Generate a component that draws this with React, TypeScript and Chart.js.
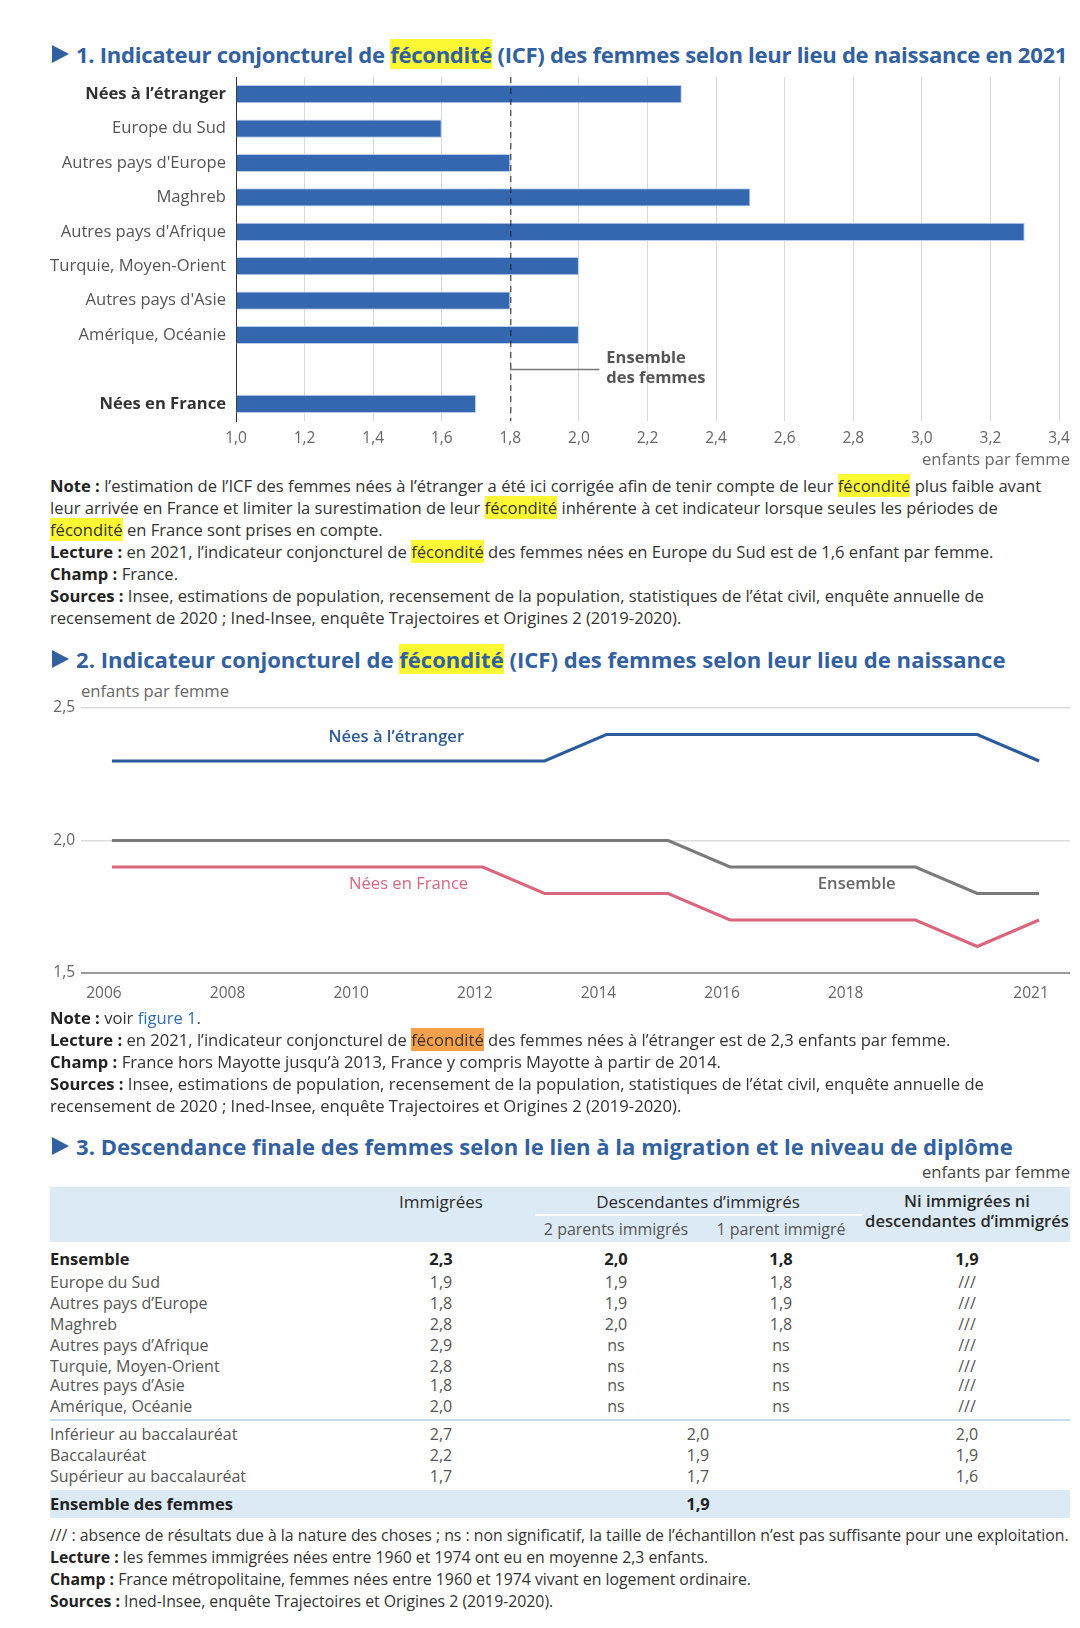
import React, { useEffect, useRef } from 'react';
import { Chart, registerables } from 'chart.js';
Chart.register(...registerables);

// ---------- Figure 1 data ----------
const birthplaceLabels = ['Nées à l’étranger', 'Europe du Sud', "Autres pays d'Europe", 'Maghreb', "Autres pays d'Afrique", 'Turquie, Moyen-Orient', "Autres pays d'Asie", 'Amérique, Océanie', '', 'Nées en France'];
const icf2021 = [2.3, 1.6, 1.8, 2.5, 3.3, 2.0, 1.8, 2.0, null, 1.7];
const ensembleFemmes2021 = 1.8;
const boldBirthplaceIdx = [0, 9];

// ---------- Figure 2 data ----------
const years = [2006, 2007, 2008, 2009, 2010, 2011, 2012, 2013, 2014, 2015, 2016, 2017, 2018, 2019, 2020, 2021];
const neesEtranger = [2.3, 2.3, 2.3, 2.3, 2.3, 2.3, 2.3, 2.3, 2.4, 2.4, 2.4, 2.4, 2.4, 2.4, 2.4, 2.3];
const ensembleSerie = [2.0, 2.0, 2.0, 2.0, 2.0, 2.0, 2.0, 2.0, 2.0, 2.0, 1.9, 1.9, 1.9, 1.9, 1.8, 1.8];
const neesFrance = [1.9, 1.9, 1.9, 1.9, 1.9, 1.9, 1.9, 1.8, 1.8, 1.8, 1.7, 1.7, 1.7, 1.7, 1.6, 1.7];
const yearTickLabels = [2006, 2008, 2010, 2012, 2014, 2016, 2018, 2021];

// ---------- Figure 3 data ----------
const ensembleRow = [2.3, 2.0, 1.8, 1.9];
const originLabels = ['Europe du Sud', 'Autres pays d’Europe', 'Maghreb', 'Autres pays d’Afrique', 'Turquie, Moyen-Orient', 'Autres pays d’Asie', 'Amérique, Océanie'];
const originImmigrees = [1.9, 1.8, 2.8, 2.9, 2.8, 1.8, 2.0];
const origin2Parents = [1.9, 1.9, 2.0, null, null, null, null];
const origin1Parent = [1.8, 1.9, 1.8, null, null, null, null];
const diplomaLabels = ['Inférieur au baccalauréat', 'Baccalauréat', 'Supérieur au baccalauréat'];
const diplomaImmigrees = [2.7, 2.2, 1.7];
const diplomaDescendantes = [2.0, 1.9, 1.7];
const diplomaNi = [2.0, 1.9, 1.6];
const ensembleDesFemmes = 1.9;

const FONT = '"Open Sans", "DejaVu Sans", sans-serif';
const TITLE_BLUE = '#33619f';
const NOTE_SIZE = 16.6;
const fmt = (v: number | null) => (v === null ? 'ns' : v.toFixed(1).replace('.', ','));

function BarChart() {
  const ref = useRef<HTMLCanvasElement>(null);
  useEffect(() => {
    if (!ref.current) return;
    const refLine = {
      id: 'refLine',
      afterDatasetsDraw(chart: any) {
        const { ctx, chartArea, scales } = chart;
        const x = scales.x.getPixelForValue(ensembleFemmes2021);
        ctx.save();
        ctx.setLineDash([6, 5]);
        ctx.strokeStyle = '#222';
        ctx.lineWidth = 1;
        ctx.beginPath();
        ctx.moveTo(x + 0.5, chartArea.top);
        ctx.lineTo(x + 0.5, chartArea.bottom);
        ctx.stroke();
        const yMid = scales.y.getPixelForValue(8);
        ctx.setLineDash([]);
        ctx.strokeStyle = '#777';
        ctx.lineWidth = 1.5;
        ctx.beginPath();
        ctx.moveTo(x, yMid);
        ctx.lineTo(scales.x.getPixelForValue(2.06), yMid);
        ctx.stroke();
        ctx.fillStyle = '#555';
        ctx.font = `700 16.5px ${FONT}`;
        ctx.textBaseline = 'middle';
        const xt = scales.x.getPixelForValue(2.08);
        ctx.fillText('Ensemble', xt, yMid - 11);
        ctx.fillText('des femmes', xt, yMid + 9);
        ctx.restore();
      },
    };
    const chart = new Chart(ref.current, {
      type: 'bar',
      data: {
        labels: birthplaceLabels,
        datasets: [{
          data: icf2021 as any,
          base: 1,
          backgroundColor: '#3566b0',
          borderColor: '#b9cfea',
          borderWidth: 1,
          barPercentage: 0.53,
          categoryPercentage: 1,
        } as any],
      },
      options: {
        indexAxis: 'y',
        responsive: false,
        animation: false,
        layout: { padding: { top: 7, right: 21, bottom: 0, left: 0 }, autoPadding: false } as any,
        plugins: { legend: { display: false }, tooltip: { enabled: false } },
        scales: {
          x: {
            type: 'linear', min: 1, max: 3.4,
            ticks: { stepSize: 0.2, callback: (v: any) => Number(v).toFixed(1).replace('.', ','), color: '#666', font: { family: FONT, size: 15.5 }, padding: 8 },
            grid: { color: '#d9d9d9', drawTicks: false },
            border: { display: false },
            afterFit: (s: any) => { s.height = 49; s.paddingLeft = 0; s.paddingRight = 0; },
          },
          y: {
            ticks: {
              color: (c: any) => (boldBirthplaceIdx.includes(c.index) ? '#333' : '#555'),
              font: (c: any) => ({ family: FONT, size: NOTE_SIZE, weight: boldBirthplaceIdx.includes(c.index) ? '700' : '400' }),
              padding: 10,
              autoSkip: false,
            },
            grid: { display: false, drawTicks: false },
            border: { display: true, color: '#333', width: 1 },
            afterFit: (s: any) => { s.width = 236; s.paddingTop = 0; s.paddingBottom = 0; },
          },
        },
      } as any,
      plugins: [refLine],
    });
    return () => chart.destroy();
  }, []);
  return <canvas ref={ref} width={1080} height={400} style={{ position: 'absolute', left: 0, top: 70 }} />;
}

const lineLabels = [
  { text: 'Nées à l’étranger', x: 2010.6, y: 2.39, color: '#2b5b9a', weight: '600' },
  { text: 'Nées en France', x: 2010.8, y: 1.836, color: '#d9657e', weight: '400' },
  { text: 'Ensemble', x: 2018.05, y: 1.836, color: '#666', weight: '600' },
];

function LineChart() {
  const ref = useRef<HTMLCanvasElement>(null);
  useEffect(() => {
    if (!ref.current) return;
    const labelsPlugin = {
      id: 'lineLabels',
      afterDatasetsDraw(chart: any) {
        const { ctx, scales } = chart;
        ctx.save();
        ctx.textAlign = 'center';
        ctx.textBaseline = 'middle';
        lineLabels.forEach((l) => {
          ctx.fillStyle = l.color;
          ctx.font = `${l.weight} ${NOTE_SIZE}px ${FONT}`;
          ctx.fillText(l.text, scales.x.getPixelForValue(l.x), scales.y.getPixelForValue(l.y));
        });
        ctx.restore();
      },
    };
    const toPts = (arr: number[]) => arr.map((v, i) => ({ x: years[i], y: v }));
    const chart = new Chart(ref.current, {
      type: 'line',
      data: {
        datasets: [
          { data: toPts(neesFrance), borderColor: '#d9657e', borderWidth: 3, pointRadius: 0, tension: 0 },
          { data: toPts(ensembleSerie), borderColor: '#7a7a7a', borderWidth: 3, pointRadius: 0, tension: 0 },
          { data: toPts(neesEtranger), borderColor: '#2b5b9a', borderWidth: 3, pointRadius: 0, tension: 0 },
        ],
      },
      options: {
        responsive: false,
        animation: false,
        layout: { padding: { top: 13, right: 10, bottom: 0, left: 0 }, autoPadding: false } as any,
        plugins: { legend: { display: false }, tooltip: { enabled: false } },
        scales: {
          x: {
            type: 'linear', min: 2005.5, max: 2021.5,
            afterBuildTicks: (s: any) => { s.ticks = yearTickLabels.map((v) => ({ value: v })); },
            ticks: { callback: (v: any) => String(v), color: '#666', font: { family: FONT, size: 15.5 }, padding: 11, labelOffset: -8, autoSkip: false, maxRotation: 0 },
            grid: { display: false, drawTicks: false },
            border: { display: false },
            afterFit: (s: any) => { s.height = 42; s.paddingLeft = 0; s.paddingRight = 0; },
          },
          y: {
            type: 'linear', min: 1.5, max: 2.5,
            ticks: { stepSize: 0.5, callback: (v: any) => Number(v).toFixed(1).replace('.', ','), color: '#666', font: { family: FONT, size: 15.5 }, padding: 6 },
            grid: {
              drawTicks: false,
              color: (c: any) => (c.tick && c.tick.value === 1.5 ? '#9a9a9a' : '#dcdcdc'),
              lineWidth: (c: any) => (c.tick && c.tick.value === 1.5 ? 2 : 1.5),
            },
            border: { display: false },
            afterFit: (s: any) => { s.width = 81; s.paddingTop = 0; s.paddingBottom = 0; },
          },
        },
      } as any,
      plugins: [labelsPlugin],
    });
    return () => chart.destroy();
  }, []);
  return <canvas ref={ref} width={1080} height={320} style={{ position: 'absolute', left: 0, top: 695 }} />;
}

const Hl = ({ c, children }: any) => <span style={{ background: c }}>{children}</span>;
const B = ({ children }: any) => <b style={{ fontWeight: 700, color: '#222' }}>{children}</b>;
const YEL = '#fcf934';

function Title({ top, children, spacing = 0 }: any) {
  return (
    <div style={{ position: 'absolute', left: 52, top: top - 16, height: 32, display: 'flex', alignItems: 'center', whiteSpace: 'nowrap', color: TITLE_BLUE, font: `700 22.1px ${FONT}`, letterSpacing: spacing }}>
      <span style={{ display: 'inline-block', width: 0, height: 0, borderTop: '9px solid transparent', borderBottom: '9px solid transparent', borderLeft: `17px solid ${TITLE_BLUE}`, marginRight: 7 }} />
      <span>{children}</span>
    </div>
  );
}

function Notes({ top, lines, size = NOTE_SIZE }: any) {
  return (
    <div style={{ position: 'absolute', left: 50, top, font: `400 ${size}px ${FONT}`, lineHeight: '22px', color: '#333', whiteSpace: 'nowrap' }}>
      {lines.map((l: any, i: number) => <div key={i}>{l}</div>)}
    </div>
  );
}

function Cell({ x, children, bold }: any) {
  return <div style={{ position: 'absolute', left: x, top: 0, transform: 'translateX(-50%)', whiteSpace: 'nowrap', fontWeight: bold ? 700 : 400 }}>{children}</div>;
}

function Row({ y, label, cells, bold }: any) {
  return (
    <div style={{ position: 'absolute', left: 0, top: y - 11, height: 22, width: 1080, lineHeight: '22px', color: bold ? '#222' : '#555', fontWeight: bold ? 700 : 400, fontSize: bold ? 16.5 : 16 }}>
      <div style={{ position: 'absolute', left: 50, top: 0, whiteSpace: 'nowrap' }}>{label}</div>
      {cells.map((c: any, i: number) => <Cell key={i} x={c.x} bold={bold}>{c.t}</Cell>)}
    </div>
  );
}

const COL = { imm: 441, p2: 616, p1: 781, desc: 698, ni: 967 };

function Table() {
  const originY = [1282, 1303, 1324, 1345, 1366, 1385, 1406];
  const diplomaY = [1434, 1455, 1476];
  return (
    <div style={{ position: 'absolute', left: 0, top: 0, font: `400 16px ${FONT}` }}>
      <div style={{ position: 'absolute', left: 50, top: 1187, width: 1020, height: 55, background: '#dceaf6' }} />
      <div style={{ position: 'absolute', left: 535, top: 1214, width: 327, height: 2, background: '#fff' }} />
      <div style={{ position: 'absolute', left: 0, top: 1191, width: 1080, lineHeight: '22px', color: '#2a2a2a', fontWeight: 600, fontSize: 17 }}>
        <Cell x={COL.imm}>Immigrées</Cell>
        <Cell x={COL.desc}>Descendantes d’immigrés</Cell>
      </div>
      <div style={{ position: 'absolute', left: 0, top: 1191, width: 1080, lineHeight: '20px', color: '#2a2a2a', fontWeight: 600, fontSize: 16.6, textAlign: 'center' }}>
        <div style={{ position: 'absolute', left: COL.ni, top: 0, transform: 'translateX(-50%)', whiteSpace: 'nowrap' }}>Ni immigrées ni<br />descendantes d’immigrés</div>
      </div>
      <div style={{ position: 'absolute', left: 0, top: 1218, width: 1080, lineHeight: '22px', color: '#555' }}>
        <Cell x={COL.p2}>2 parents immigrés</Cell>
        <Cell x={COL.p1}>1 parent immigré</Cell>
      </div>
      <Row y={1259} bold label="Ensemble" cells={[{ x: COL.imm, t: fmt(ensembleRow[0]) }, { x: COL.p2, t: fmt(ensembleRow[1]) }, { x: COL.p1, t: fmt(ensembleRow[2]) }, { x: COL.ni, t: fmt(ensembleRow[3]) }]} />
      {originLabels.map((lab, i) => (
        <Row key={lab} y={originY[i]} label={lab} cells={[{ x: COL.imm, t: fmt(originImmigrees[i]) }, { x: COL.p2, t: fmt(origin2Parents[i]) }, { x: COL.p1, t: fmt(origin1Parent[i]) }, { x: COL.ni, t: '///' }]} />
      ))}
      <div style={{ position: 'absolute', left: 50, top: 1419, width: 1020, height: 2, background: '#c4dbee' }} />
      {diplomaLabels.map((lab, i) => (
        <Row key={lab} y={diplomaY[i]} label={lab} cells={[{ x: COL.imm, t: fmt(diplomaImmigrees[i]) }, { x: COL.desc, t: fmt(diplomaDescendantes[i]) }, { x: COL.ni, t: fmt(diplomaNi[i]) }]} />
      ))}
      <div style={{ position: 'absolute', left: 50, top: 1490, width: 1020, height: 28, background: '#dceaf6' }} />
      <Row y={1504} bold label="Ensemble des femmes" cells={[{ x: COL.desc, t: fmt(ensembleDesFemmes) }]} />
    </div>
  );
}

export default function App() {
  return (
    <div style={{ position: 'absolute', left: 0, top: 0, width: 1080, height: 1628, background: '#fff', overflow: 'hidden', fontFamily: FONT }}>
      <Title top={54} spacing={-0.3}>1. Indicateur conjoncturel de <Hl c={YEL}>fécondité</Hl> (ICF) des femmes selon leur lieu de naissance en 2021</Title>
      <BarChart />
      <div style={{ position: 'absolute', right: 10, top: 448, font: `400 ${NOTE_SIZE}px ${FONT}`, color: '#666', lineHeight: '22px' }}>enfants par femme</div>
      <Notes top={475} lines={[
        <><B>Note :</B> l’estimation de l’ICF des femmes nées à l’étranger a été ici corrigée afin de tenir compte de leur <Hl c={YEL}>fécondité</Hl> plus faible avant</>,
        <>leur arrivée en France et limiter la surestimation de leur <Hl c={YEL}>fécondité</Hl> inhérente à cet indicateur lorsque seules les périodes de</>,
        <><Hl c={YEL}>fécondité</Hl> en France sont prises en compte.</>,
        <><B>Lecture :</B> en 2021, l’indicateur conjoncturel de <Hl c={YEL}>fécondité</Hl> des femmes nées en Europe du Sud est de 1,6 enfant par femme.</>,
        <><B>Champ :</B> France.</>,
        <><B>Sources :</B> Insee, estimations de population, recensement de la population, statistiques de l’état civil, enquête annuelle de</>,
        <>recensement de 2020 ; Ined-Insee, enquête Trajectoires et Origines 2 (2019-2020).</>,
      ]} />
      <Title top={659}>2. Indicateur conjoncturel de <Hl c={YEL}>fécondité</Hl> (ICF) des femmes selon leur lieu de naissance</Title>
      <div style={{ position: 'absolute', left: 81, top: 680, font: `400 ${NOTE_SIZE}px ${FONT}`, color: '#666', lineHeight: '22px' }}>enfants par femme</div>
      <LineChart />
      <Notes top={1007} lines={[
        <><B>Note :</B> voir <span style={{ color: '#2f6db3' }}>figure 1</span>.</>,
        <><B>Lecture :</B> en 2021, l’indicateur conjoncturel de <Hl c="#f5a04a">fécondité</Hl> des femmes nées à l’étranger est de 2,3 enfants par femme.</>,
        <><B>Champ :</B> France hors Mayotte jusqu’à 2013, France y compris Mayotte à partir de 2014.</>,
        <><B>Sources :</B> Insee, estimations de population, recensement de la population, statistiques de l’état civil, enquête annuelle de</>,
        <>recensement de 2020 ; Ined-Insee, enquête Trajectoires et Origines 2 (2019-2020).</>,
      ]} />
      <Title top={1146}>3. Descendance finale des femmes selon le lien à la migration et le niveau de diplôme</Title>
      <div style={{ position: 'absolute', right: 10, top: 1161, font: `400 ${NOTE_SIZE}px ${FONT}`, color: '#444', lineHeight: '22px' }}>enfants par femme</div>
      <Table />
      <Notes top={1524} size={15.8} lines={[
        <>/// : absence de résultats due à la nature des choses ; ns : non significatif, la taille de l’échantillon n’est pas suffisante pour une exploitation.</>,
        <><B>Lecture :</B> les femmes immigrées nées entre 1960 et 1974 ont eu en moyenne 2,3 enfants.</>,
        <><B>Champ :</B> France métropolitaine, femmes nées entre 1960 et 1974 vivant en logement ordinaire.</>,
        <><B>Sources :</B> Ined-Insee, enquête Trajectoires et Origines 2 (2019-2020).</>,
      ]} />
    </div>
  );
}
